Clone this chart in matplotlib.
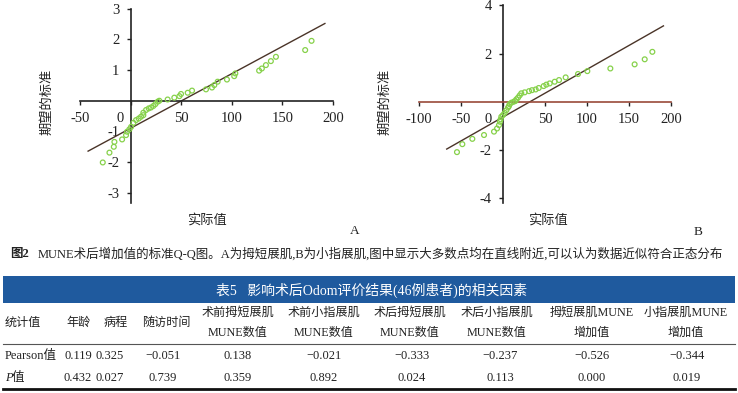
import matplotlib
matplotlib.use("Agg")
import matplotlib.pyplot as plt
from matplotlib.transforms import ScaledTranslation
from matplotlib.patches import Rectangle
from matplotlib.lines import Line2D

# 图2 A: 拇短展肌 Q-Q
a_actual = [-27.5, -20.9, -16.6, -16.0, -8.4, -4.5, -3.5, -1.2, 0.5, 2.8, 5.4, 8.0, 10.3,
            12.6, 12.6, 15.3, 17.9, 20.2, 22.5, 24.5, 26.8, 28.4, 36.6, 43.2, 48.2, 49.8,
            56.4, 60.7, 74.5, 80.4, 82.7, 86.0, 95.2, 102.4, 103.5, 127.0, 129.7, 133.7,
            138.6, 143.6, 172.5, 178.8]
a_expected = [-2.01, -1.69, -1.50, -1.34, -1.26, -1.12, -1.01, -0.93, -0.85, -0.72, -0.63,
              -0.58, -0.52, -0.47, -0.39, -0.30, -0.25, -0.22, -0.17, -0.11, -0.03, 0.0,
              0.04, 0.10, 0.15, 0.22, 0.26, 0.33, 0.37, 0.43, 0.51, 0.62, 0.69, 0.80, 0.89,
              0.98, 1.05, 1.16, 1.29, 1.43, 1.65, 1.95]
a_mean, a_sd = 50.4, 56.3
a_line_x = [-42, 192]

# 图2 B: 小指展肌 Q-Q
b_actual = [-54.8, -48.4, -36.5, -22.6, -10.7, -7.1, -4.8, -3.6, -2.8, -2.0, 0.0, 2.0, 4.0,
            6.0, 7.1, 7.9, 9.9, 12.7, 14.7, 15.9, 17.9, 19.8, 21.8, 25.8, 31.0, 34.5, 38.9,
            42.5, 48.4, 51.6, 55.6, 61.5, 66.7, 74.6, 89.3, 100.4, 127.8, 156.7, 168.7, 177.8]
b_expected = [-2.09, -1.76, -1.54, -1.38, -1.24, -1.11, -0.97, -0.83, -0.73, -0.62, -0.55,
              -0.46, -0.35, -0.24, -0.18, -0.10, -0.04, 0.0, 0.03, 0.10, 0.17, 0.26, 0.35,
              0.39, 0.44, 0.48, 0.51, 0.57, 0.65, 0.71, 0.76, 0.83, 0.90, 1.01, 1.15, 1.27,
              1.38, 1.55, 1.76, 2.07]
b_mean, b_sd = 32.1, 50.5
b_line_x = [-67, 191]

# 表5
col_headers = ["统计值", "年龄", "病程", "随访时间", "术前拇短展肌\nMUNE数值", "术前小指展肌\nMUNE数值",
               "术后拇短展肌\nMUNE数值", "术后小指展肌\nMUNE数值", "拇短展肌MUNE\n增加值", "小指展肌MUNE\n增加值"]
pearson_vals = ["0.119", "0.325", "\u22120.051", "0.138", "\u22120.021", "\u22120.333",
                "\u22120.237", "\u22120.526", "\u22120.344"]
p_vals = ["0.432", "0.027", "0.739", "0.359", "0.892", "0.024", "0.113", "0.000", "0.019"]

W, H = 738, 393
FONTS = ["Liberation Serif", "Noto Sans CJK SC"]
plt.rcParams["font.family"] = FONTS
plt.rcParams["axes.unicode_minus"] = True
TXT = "#222222"

fig = plt.figure(figsize=(W / 100, H / 100), dpi=100)


def fx(x):
    return x / W


def fy(y):
    return 1 - y / H


def qq_panel(left, right, top, bottom, xlim, ylim, xticks, yticks, xs, ys, mean, sd, line_x,
             hcolor, zero_shift):
    ax = fig.add_axes([fx(left), fy(bottom), fx(right) - fx(left), fy(top) - fy(bottom)])
    ax.set_xlim(*xlim)
    ax.set_ylim(*ylim)
    for s in ["top", "right"]:
        ax.spines[s].set_visible(False)
    ax.spines["left"].set_position(("data", 0))
    ax.spines["bottom"].set_position(("data", 0))
    ax.spines["left"].set_color(TXT)
    ax.spines["bottom"].set_color(hcolor)
    ax.spines["left"].set_linewidth(1.2)
    ax.spines["bottom"].set_linewidth(1.2)
    ax.set_xticks(xticks)
    ax.set_yticks(yticks)
    ax.set_xticklabels([str(t) for t in xticks])
    ax.set_yticklabels([str(t) for t in yticks])
    ax.tick_params(direction="out", length=3, width=1, labelsize=10.5, colors=TXT, pad=5)
    ax.patch.set_alpha(0)
    # 0 label sits left of the y axis
    for lab, t in zip(ax.get_xticklabels(), xticks):
        if t == 0:
            lab.set_transform(lab.get_transform() + ScaledTranslation(zero_shift / 100, 0, fig.dpi_scale_trans))
    ly = [(v - mean) / sd for v in line_x]
    ax.plot(line_x, ly, color="#4a3428", lw=1.0)
    ax.scatter(xs, ys, s=12, facecolors="none", edgecolors="#86d14a", linewidths=0.9, zorder=3)
    return ax


qq_panel(80, 333, 8.6, 203, (-50, 200), (-3.33, 3.0), [-50, 0, 50, 100, 150, 200],
         [-3, -2, -1, 1, 2, 3], a_actual, a_expected, a_mean, a_sd, a_line_x, TXT, -10)
qq_panel(419, 671, 5.3, 203, (-100, 200), (-4.2, 4.0), [-100, -50, 0, 50, 100, 150, 200],
         [-4, -2, 2, 4], b_actual, b_expected, b_mean, b_sd, b_line_x, "#9a4a3a", -15)

# axis titles and panel letters
for x0, xl, lx, letter, ly_ in [(47, 207, 355, "A", 231), (385, 548, 698, "B", 232)]:
    fig.text(fx(x0), fy(102), "期望的标准", rotation=90, ha="center", va="center", fontsize=9.5, color=TXT)
    fig.text(fx(xl), fy(220), "实际值", ha="center", va="center", fontsize=9.5, color=TXT)
    fig.text(fx(lx), fy(ly_), letter, ha="center", va="center", fontsize=9.5, color=TXT)

# caption
fig.text(fx(10), fy(254), "图2", ha="left", va="center", fontsize=9, weight="bold", color=TXT)
fig.text(fx(38), fy(254), "MUNE术后增加值的标准Q-Q图。A为拇短展肌,B为小指展肌,图中显示大多数点均在直线附近,可以认为数据近似符合正态分布",
         ha="left", va="center", fontsize=9.0, color=TXT)

# table title band
fig.patches.append(Rectangle((fx(3), fy(303)), fx(735) - fx(3), fy(276) - fy(303),
                             transform=fig.transFigure, facecolor="#1f5a9e", edgecolor="none"))
fig.text(fx(372), fy(290), "表5   影响术后Odom评价结果(46例患者)的相关因素", ha="center", va="center",
         fontsize=10, color="white")

col_x = [None, 79, 116, 166, 238, 324, 410, 497, 592, 686]
for i, h in enumerate(col_headers):
    if i == 0:
        fig.text(fx(5), fy(323), h, ha="left", va="center", fontsize=8.7, color=TXT)
    else:
        lines = h.split("\n")
        if len(lines) == 1:
            fig.text(fx(col_x[i]), fy(323), h, ha="center", va="center", fontsize=8.7, color=TXT)
        else:
            fig.text(fx(col_x[i]), fy(313), lines[0], ha="center", va="center", fontsize=8.7, color=TXT)
            fig.text(fx(col_x[i]), fy(333), lines[1], ha="center", va="center", fontsize=8.7, color=TXT)

fig.lines.append(Line2D([fx(3), fx(735)], [fy(344), fy(344)], transform=fig.transFigure,
                        color="#555555", lw=0.8))
fig.lines.append(Line2D([fx(3), fx(735)], [fy(389), fy(389)], transform=fig.transFigure,
                        color="#111111", lw=2.0))

fig.text(fx(5), fy(356), "Pearson值", ha="left", va="center", fontsize=9, color=TXT)
fig.text(fx(5), fy(378), "P", ha="left", va="center", fontsize=9, style="italic", color=TXT)
fig.text(fx(12), fy(378), "值", ha="left", va="center", fontsize=9, color=TXT)
val_x = [78, 110, 163, 238, 324, 412, 500, 592, 687]
for x, pv, p in zip(val_x, pearson_vals, p_vals):
    fig.text(fx(x), fy(356), pv, ha="center", va="center", fontsize=9, color=TXT)
    fig.text(fx(x), fy(378), p, ha="center", va="center", fontsize=9, color=TXT)

fig.savefig("out.png", dpi=100)
